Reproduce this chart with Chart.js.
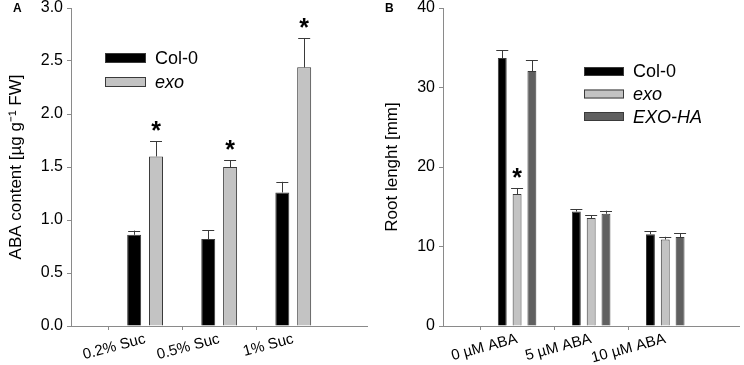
<!DOCTYPE html>
<html>
<head>
<meta charset="utf-8">
<script src="https://cdn.jsdelivr.net/npm/chart.js@4"></script>
<style>
  body { margin: 0; background: #fff; }
  .panel { position: absolute; top: 0; width: 372px; height: 365px; }
  .tag { position: absolute; top: 1px; left: 13px; font: bold 12px "Liberation Sans", Arial, sans-serif; }
</style>
</head>
<body>
<div class="panel" style="left:0"><canvas id="chartA" width="372" height="365"></canvas><div class="tag">A</div></div>
<div class="panel" style="left:372px"><canvas id="chartB" width="372" height="365"></canvas><div class="tag">B</div></div>
<script>
// Panel A - ABA content
const categoriesA = ['', '0.2% Suc', '0.5% Suc', '1% Suc', ''];
const col0A = [null, 0.86, 0.82, 1.26, null];
const col0ErrA = [null, 0.04, 0.085, 0.10, null];
const exoA = [null, 1.60, 1.50, 2.44, null];
const exoErrA = [null, 0.145, 0.063, 0.277, null];
const exoStarA = [false, true, true, true, false];
const ticksA = [0, 0.5, 1.0, 1.5, 2.0, 2.5, 3.0];

// Panel B - root length
const categoriesB = ['', '0 µM ABA', '5 µM ABA', '10 µM ABA', ''];
const col0B = [null, 33.7, 14.4, 11.55, null];
const col0ErrB = [null, 1.0, 0.3, 0.34, null];
const exoB = [null, 16.6, 13.57, 10.88, null];
const exoErrB = [null, 0.76, 0.38, 0.34, null];
const exoStarB = [false, true, false, false, false];
const exoHaB = [null, 32.06, 14.12, 11.18, null];
const exoHaErrB = [null, 1.34, 0.38, 0.46, null];
const ticksB = [0, 10, 20, 30, 40];

const FONT = '"Liberation Sans", Arial, sans-serif';
const axisGrey = '#8a8a8a';
const edge = '#3a3a3a';

// draws one-sided error bars, asterisks and the inset legend
const extrasPlugin = {
    id: 'extras',
    afterDatasetsDraw(chart) {
        const c = chart.ctx;
        const y = chart.scales.y;
        c.save();
        chart.data.datasets.forEach((ds, i) => {
            const meta = chart.getDatasetMeta(i);
            meta.data.forEach((bar, j) => {
                const v = ds.data[j];
                if (v === null) return;
                const top = y.getPixelForValue(v + ds.errors[j]);
                c.strokeStyle = edge;
                c.lineWidth = 1;
                c.beginPath();
                c.moveTo(Math.round(bar.x) + 0.5, bar.y);
                c.lineTo(Math.round(bar.x) + 0.5, top);
                c.moveTo(bar.x - 6, Math.round(top) + 0.5);
                c.lineTo(bar.x + 6, Math.round(top) + 0.5);
                c.stroke();
                if (ds.stars && ds.stars[j]) {
                    c.fillStyle = '#000';
                    c.font = 'bold 25px ' + FONT;
                    c.textAlign = 'center';
                    c.textBaseline = 'alphabetic';
                    c.fillText('*', bar.x, top - 2);
                }
            });
        });
        // legend
        const lg = chart.options.plugins.extras;
        chart.data.datasets.forEach((ds, i) => {
            const by = lg.y + i * lg.dy;
            c.fillStyle = ds.backgroundColor;
            c.fillRect(lg.x, by, lg.w, lg.h);
            c.strokeStyle = edge;
            c.strokeRect(lg.x + 0.5, by + 0.5, lg.w - 1, lg.h - 1);
            c.fillStyle = '#000';
            c.font = (ds.italic ? 'italic ' : '') + '18px ' + FONT;
            c.textAlign = 'left';
            c.textBaseline = 'middle';
            c.fillText(ds.label, lg.x + lg.w + 9, by + lg.h / 2 + 1);
        });
        c.restore();
    }
};

function makePanel(id, labels, datasets, yTicks, yTitle, titlePad, decimals, barPct, catPct, legend) {
    const ctx = document.getElementById(id).getContext('2d');
    return new Chart(ctx, {
        type: 'bar',
        data: { labels: labels, datasets: datasets },
        plugins: [extrasPlugin],
        options: {
            responsive: false,
            animation: false,
            layout: { padding: { top: 0, right: 1, left: 0, bottom: 0 } },
            datasets: { bar: { barPercentage: barPct, categoryPercentage: catPct, borderWidth: 1, borderColor: edge } },
            scales: {
                x: {
                    offset: false,
                    afterFit: (s) => { s.height = 39; },
                    border: { color: axisGrey, width: 1 },
                    grid: {
                        drawOnChartArea: false,
                        tickLength: 4,
                        color: (c) => (c.index === 0 || c.index === labels.length - 1) ? 'rgba(0,0,0,0)' : axisGrey
                    },
                    ticks: { autoSkip: false, minRotation: 15, maxRotation: 15, padding: 0, color: '#000', font: { family: FONT, size: 15 } }
                },
                y: {
                    min: yTicks[0],
                    max: yTicks[yTicks.length - 1],
                    afterFit: (s) => { s.width = 71; s.paddingTop = 8; s.paddingBottom = 0; },
                    afterBuildTicks: (s) => { s.ticks = yTicks.map(v => ({ value: v })); },
                    border: { color: axisGrey, width: 1 },
                    grid: { drawOnChartArea: false, tickLength: 4, color: axisGrey },
                    ticks: { padding: 4, color: '#000', font: { family: FONT, size: 16, lineHeight: 1 }, callback: (v) => v.toFixed(decimals) },
                    title: { display: true, text: yTitle, color: '#000', font: { family: FONT, size: 17 }, padding: { top: titlePad, bottom: 0 } }
                }
            },
            plugins: { legend: { display: false }, tooltip: { enabled: false }, extras: legend }
        }
    });
}

makePanel('chartA', categoriesA, [
    { label: 'Col-0', data: col0A, errors: col0ErrA, backgroundColor: '#000000' },
    { label: 'exo', data: exoA, errors: exoErrA, stars: exoStarA, italic: true, backgroundColor: '#c3c3c3' }
], ticksA, 'ABA content [µg g⁻¹ FW]', 6, 1, 0.64, 0.59, { x: 105, y: 53, dy: 24, w: 41, h: 10 });

makePanel('chartB', categoriesB, [
    { label: 'Col-0', data: col0B, errors: col0ErrB, backgroundColor: '#000000' },
    { label: 'exo', data: exoB, errors: exoErrB, stars: exoStarB, italic: true, backgroundColor: '#c3c3c3' },
    { label: 'EXO-HA', data: exoHaB, errors: exoHaErrB, italic: true, backgroundColor: '#606060' }
], ticksB, 'Root lenght [mm]', 10, 0, 0.6, 0.6, { x: 212, y: 67, dy: 22.5, w: 40, h: 9 });
</script>
</body>
</html>
